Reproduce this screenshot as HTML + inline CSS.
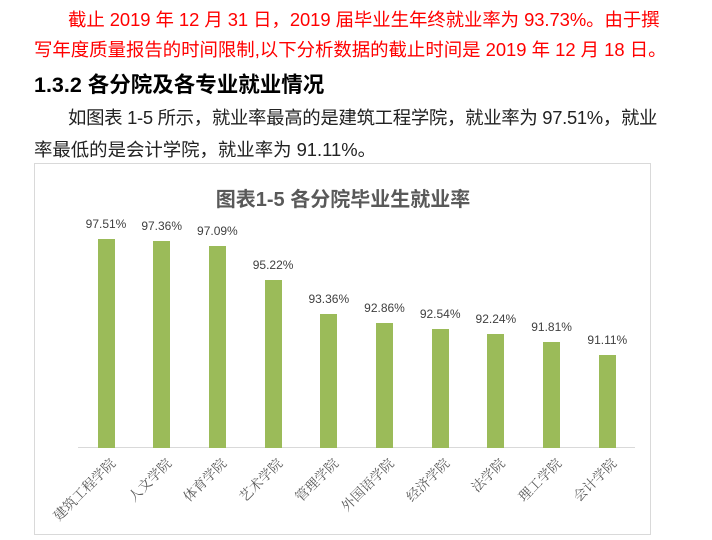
<!DOCTYPE html>
<html><head><meta charset="utf-8"><style>
body{margin:0;width:712px;height:540px;background:#fff;position:relative;overflow:hidden;font-family:"Liberation Sans","Noto Sans CJK SC",sans-serif}
.t{position:absolute;white-space:nowrap;font-size:18.4px;line-height:22px}
.r{color:#f00}
.h{font-weight:bold;font-size:21.5px;color:#000}
.b{color:#222}
#c{position:absolute;left:34px;top:163px;width:617px;height:372px;border:1px solid #d9d9d9;box-sizing:border-box}
.bar{position:absolute;width:17px;background:#9bbb59}
.v{position:absolute;width:60px;text-align:center;font-size:12px;color:#404040}
.x{position:absolute;font-family:"Liberation Serif","Noto Serif CJK SC",serif;font-size:13.5px;color:#595959;white-space:nowrap;transform-origin:100% 50%;transform:rotate(-45deg);text-align:right}
</style></head><body>
<div class="t r" style="left:68px;top:9px;letter-spacing:-0.05px">截止 2019 年 12 月 31 日，2019 届毕业生年终就业率为 93.73%。由于撰</div>
<div class="t r" style="left:34px;top:39px">写年度质量报告的时间限制,以下分析数据的截止时间是 2019 年 12 月 18 日。</div>
<div class="t h" style="left:34px;top:74px">1.3.2 各分院及各专业就业情况</div>
<div class="t b" style="left:68px;top:107px;letter-spacing:-0.3px">如图表 1-5 所示，就业率最高的是建筑工程学院，就业率为 97.51%，就业</div>
<div class="t b" style="left:34px;top:139px">率最低的是会计学院，就业率为 91.11%。</div>
<div id="c"></div>
<div style="position:absolute;left:0;width:686px;top:183px;text-align:center;font-weight:bold;font-size:20px;color:#595959">图表1-5 各分院毕业生就业率</div>
<div style="position:absolute;left:78px;top:447px;width:557px;height:1px;background:#d9d9d9"></div>
<div id="bars"></div>
<script>
var d=[["建筑工程学院",97.51],["人文学院",97.36],["体育学院",97.09],["艺术学院",95.22],["管理学院",93.36],["外国语学院",92.86],["经济学院",92.54],["法学院",92.24],["理工学院",91.81],["会计学院",91.11]];
var h="";
d.forEach(function(e,i){var cx=106+i*55.7;var top=448-(e[1]-86)*18.2;
h+='<div class="bar" style="left:'+(cx-8.5)+'px;top:'+top+'px;height:'+(448-top)+'px"></div>';
h+='<div class="v" style="left:'+(cx-30)+'px;top:'+(top-22)+'px">'+e[1].toFixed(2)+'%</div>';
h+='<div class="x" style="right:'+(712-cx-6)+'px;top:'+450+'px">'+e[0]+'</div>';});
document.getElementById("bars").innerHTML=h;
</script>
</body></html>
